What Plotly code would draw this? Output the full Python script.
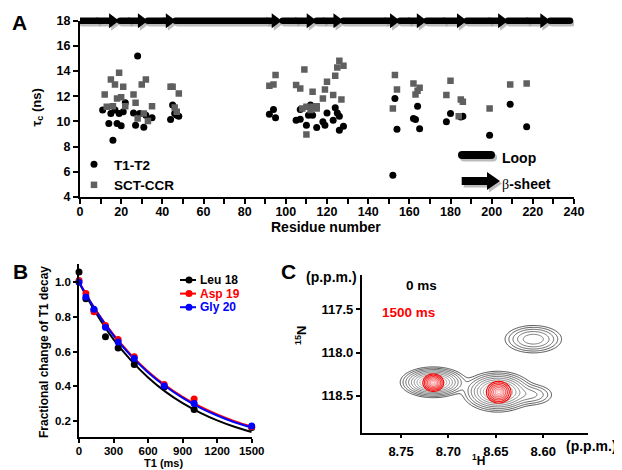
import numpy as np
import plotly.graph_objects as go

FONT = "Liberation Sans, Arial, sans-serif"
# the page body has an 8 px margin, so the figure is drawn 8 px smaller and offset
OFF = 8
W, H = 622 - OFF, 470 - OFF

# ---------------- Panel A data ----------------
res_t1t2 = [11, 14, 15, 16, 17, 18, 19, 20, 21, 22, 26, 27, 28, 29, 31, 32, 35,
            44, 45, 46, 47, 48, 92, 94, 95, 105, 107, 107, 110, 111, 112, 113, 115,
            118, 119, 120, 123, 124, 125, 126, 126, 128, 152, 153, 154, 162, 163,
            164, 165, 178, 180, 185, 186, 199, 209, 217]
tau_t1t2 = [10.9, 9.84, 10.63, 8.51, 10.9, 9.84, 10.63, 9.65, 10.76, 11.48, 10.68, 9.7, 15.2, 10.63, 9.54, 10.5, 10.3,
            10.16, 11.3, 10.63, 10.5, 10.42, 10.58, 10.95, 10.3, 10.1, 10.18, 10.95, 9.7, 10.5, 11.3, 10.5, 9.52,
            9.97, 9.7, 10.68, 10.1, 11.08, 10.68, 10.42, 9.3, 9.62, 5.72, 11.83, 9.38, 10.23, 10.16,
            11.2, 9.41, 9.97, 10.63, 10.36, 10.42, 8.91, 11.37, 9.57]

res_sct = [12, 13, 15, 16, 17, 18, 19, 20, 21, 22, 26, 27, 28, 30, 31, 32, 33, 35, 44, 45, 46, 47, 48,
           92, 94, 95, 105, 107, 109, 113, 110, 108, 110, 112, 113, 115, 115, 118, 119, 120, 123, 124, 125, 126, 128, 127,
           152, 153, 154, 162, 163, 164, 165, 178, 180, 184, 185, 186, 199, 209, 217]
tau_sct = [12.14, 11.16, 13.34, 11.2, 12.94, 11.83, 13.86, 11.93, 12.75, 11.2, 12.14, 11.48, 10.23, 12.94, 10.63, 13.34, 10.04, 11.2,
           12.75, 12.75, 11.1, 10.76, 12.22,
           12.83, 12.94, 13.68, 12.9, 12.62, 14.13, 12.35, 8.96, 11.03, 11.16, 10.9, 11.16, 11.2, 11.03, 11.83, 12.54, 13.15,
           12.09, 13.63, 14.29, 14.82, 14.42, 11.75,
           11.03, 13.68, 12.54, 13.02, 12.14, 12.43, 12.67, 12.09, 13.23, 10.42, 11.75, 11.56, 11.03, 12.94, 13.02]

# secondary structure along the top (L = loop, E = beta-sheet)
ss_start = [0, 8, 19.5, 23.5, 33, 40.5, 46.5, 90.5, 98.5, 104.5, 115, 118, 128, 148, 155.5, 159.5, 168.5, 176.5,
            188, 198.5, 208, 217, 228.5]
ss_end = [8, 19, 23.5, 33, 40.5, 46.5, 90.5, 98, 104.5, 115, 118, 128, 148, 155.5, 159.5, 168.5, 176.5, 188,
          198.5, 208, 217, 228.5, 238]
ss_type = ['L', 'E', 'L', 'E', 'L', 'E', 'L', 'E', 'L', 'E', 'L', 'E', 'L', 'E', 'L', 'E', 'L', 'E',
           'L', 'E', 'L', 'E', 'L']

a_xticks = list(range(0, 241, 20))
a_xminor = list(range(10, 240, 20))
a_yticks = list(range(4, 19, 2))

# ---------------- Panel B data ----------------
t1_ms = [0, 60, 130, 230, 340, 480, 740, 1000, 1500]
leu18 = [1.06, 0.905, 0.84, 0.685, 0.62, 0.525, 0.395, 0.265, 0.16]
asp19 = [1.01, 0.935, 0.83, 0.75, 0.67, 0.57, 0.41, 0.325, 0.165]
gly20 = [1.0, 0.915, 0.845, 0.74, 0.655, 0.56, 0.40, 0.30, 0.17]
fit_t = [0, 150, 300, 450, 600, 750, 900, 1050, 1200, 1350, 1500]
fit_leu18 = [1.0, 0.82, 0.67, 0.55, 0.45, 0.368, 0.301, 0.247, 0.202, 0.165, 0.135]
fit_asp19 = [1.0, 0.835, 0.697, 0.582, 0.485, 0.405, 0.338, 0.282, 0.236, 0.197, 0.165]
fit_gly20 = [1.0, 0.832, 0.692, 0.576, 0.479, 0.399, 0.332, 0.276, 0.23, 0.191, 0.16]
b_names = ['Leu 18', 'Asp 19', 'Gly 20']
b_colors = ['#000000', '#ff0000', '#0000ff']
b_xticks = [0, 300, 600, 900, 1200, 1500]
b_yticks = [0.2, 0.4, 0.6, 0.8, 1.0]

# ---------------- Panel C data (peak positions, widths, heights) ----------------
p0_h = [8.716, 8.648, 8.612, 8.6105]
p0_n = [118.345, 118.454, 118.49, 117.845]
p0_amp = [1.0, 1.0, 0.12, 0.25]
p0_wh = [0.0125, 0.0134, 0.011, 0.0133]
p0_wn = [0.064, 0.085, 0.06, 0.071]
p1_h = [8.716, 8.647]
p1_n = [118.35, 118.46]
p1_amp = [1.0, 1.0]
p1_wh = [0.0061, 0.0072]
p1_wn = [0.056, 0.07]
c_xticks = [8.75, 8.70, 8.65, 8.60]
c_yticks = [117.5, 118.0, 118.5]


def ppx(px):
    return (px - OFF) / W


def ppy(py):
    return 1 - (py - OFF) / H


fig = go.Figure()

# ---- Panel A ----
fig.add_trace(go.Scatter(x=res_t1t2, y=tau_t1t2, mode='markers', name='T1-T2',
                         marker=dict(symbol='circle', size=7, color='black'),
                         xaxis='x', yaxis='y', legend='legend'))
fig.add_trace(go.Scatter(x=res_sct, y=tau_sct, mode='markers', name='SCT-CCR',
                         marker=dict(symbol='square', size=6.5, color='#5f5f5f'),
                         xaxis='x', yaxis='y', legend='legend'))

# ---- Panel B ----
for pts, fit, col, nm in zip([leu18, asp19, gly20], [fit_leu18, fit_asp19, fit_gly20], b_colors, b_names):
    fig.add_trace(go.Scatter(x=fit_t, y=fit, mode='lines', line=dict(color=col, width=2, shape='spline'),
                             xaxis='x2', yaxis='y2', showlegend=False, cliponaxis=False, name=nm + ' fit'))
for pts, col, nm in zip([leu18, asp19, gly20], b_colors, b_names):
    fig.add_trace(go.Scatter(x=t1_ms, y=pts, mode='markers', marker=dict(color=col, size=7),
                             xaxis='x2', yaxis='y2', showlegend=False, cliponaxis=False, name=nm))

# ---- Panel C ----
hh = np.linspace(8.80, 8.54, 261)
nn = np.linspace(117.05, 119.0, 261)
HH, NN = np.meshgrid(hh, nn)


def spectrum(ch, cn, amp, wh, wn):
    z = np.zeros_like(HH)
    for a, b, c, d, e in zip(ch, cn, amp, wh, wn):
        z += c * np.exp(-((HH - a) ** 2 / (2 * d ** 2) + (NN - b) ** 2 / (2 * e ** 2)))
    # radius-like scale so that contour rings come out evenly spaced
    return -np.sqrt(np.clip(-np.log10(z / z.max() + 1e-12), 0, None))


z0 = spectrum(p0_h, p0_n, p0_amp, p0_wh, p0_wn)
z1 = spectrum(p1_h, p1_n, p1_amp, p1_wh, p1_wn)
fig.add_trace(go.Contour(x=hh, y=nn, z=z0, xaxis='x3', yaxis='y3', showscale=False, hoverinfo='skip',
                         contours=dict(start=-1.3, end=-0.1, size=0.11, coloring='lines'),
                         colorscale=[[0, '#222222'], [0.5, '#6a6a6a'], [1, '#d5d5d5']], zmin=-1.3, zmax=0,
                         line=dict(width=0.8), name='0 ms'))
fig.add_trace(go.Contour(x=hh, y=nn, z=z1, xaxis='x3', yaxis='y3', showscale=False, hoverinfo='skip',
                         contours=dict(start=-0.84, end=-0.1, size=0.12, coloring='lines'),
                         colorscale=[[0, '#ff0000'], [1, '#ffb0b0']], zmin=-0.84, zmax=0,
                         line=dict(width=1.1), name='1500 ms'))

# ---- shapes: secondary structure bar ----
PXU = (574 - 80) / 240.0  # pixels per residue


def loop_path(x0, x1, half):
    r = half / PXU
    return (f"M {x0},{-half} L {x1},{-half} Q {x1 + r},{-half} {x1 + r},0 Q {x1 + r},{half} {x1},{half} "
            f"L {x0},{half} Q {x0 - r},{half} {x0 - r},0 Q {x0 - r},{-half} {x0},{-half} Z")


def arrow_path(x0, x1, half, headhalf, headpx):
    hl = min(headpx / PXU, 0.8 * (x1 - x0))
    xh = x1 - hl
    return (f"M {x0},{-half} L {xh},{-half} L {xh},{-headhalf} L {x1},0 L {xh},{headhalf} "
            f"L {xh},{half} L {x0},{half} Z")


shapes = []
ybar = ppy(20.7)


def add_ss(kind, x0, x1, yanc, half, headhalf, headpx, shadow=True):
    out = []
    for dx, dy, col, op in ([(1.0, -2.5, '#a0a0a0', 0.7)] if shadow else []) + [(0, 0, 'black', 1)]:
        if kind == 'L':
            p = loop_path(x0 + dx, x1 + dx, half)
        else:
            p = arrow_path(x0 + dx, x1 + dx, half, headhalf, headpx)
        out.append(dict(type='path', path=p, xref='x', yref='paper', ysizemode='pixel', yanchor=yanc + dy / H,
                        fillcolor=col, opacity=op, line=dict(width=0), layer='above'))
    return out


shadow_shapes, main_loops, main_arrows = [], [], []
for s, e, k in zip(ss_start, ss_end, ss_type):
    sh = add_ss(k, s, e, ybar, 3.3, 7.5, 10)
    shadow_shapes.append(sh[0])
    (main_loops if k == 'L' else main_arrows).append(sh[1])
shapes += shadow_shapes + main_loops + main_arrows
# legend symbols for Loop / beta-sheet
shapes += add_ss('L', (462 - 80) / PXU, (491 - 80) / PXU, ppy(155), 4, 4, 0)
shapes += add_ss('E', (461.7 - 80) / PXU, (500 - 80) / PXU, ppy(181), 4, 9, 13)

# custom legend for panel B
for i, (nm, col) in enumerate(zip(b_names, b_colors)):
    yy = ppy(280 + i * 13.6)
    shapes.append(dict(type='line', xref='paper', yref='paper', x0=ppx(180), x1=ppx(196), y0=yy, y1=yy,
                       line=dict(color=col, width=2)))
    shapes.append(dict(type='circle', xref='paper', yref='paper', xsizemode='pixel', ysizemode='pixel',
                       xanchor=ppx(189), yanchor=yy, x0=-3.5, x1=3.5, y0=-3.5, y1=3.5,
                       fillcolor=col, line=dict(width=0)))

annotations = []


def ann(text, px, py, size, xanchor='center', yanchor='middle', color='black', angle=0):
    annotations.append(dict(text=text, x=ppx(px), y=ppy(py), xref='paper', yref='paper', showarrow=False,
                            xanchor=xanchor, yanchor=yanchor, textangle=angle,
                            font=dict(family=FONT, size=size, color=color, weight='bold')))


ann('A', 20, 22.5, 21)
ann('B', 20.8, 271, 21)
ann('C', 288, 271, 21)
ann('τ<sub>c</sub> (ns)', 36.5, 108, 13, angle=-90)
ann('Residue number', 326, 226.5, 14)
ann('Loop', 500, 158.5, 14, xanchor='left')
ann("<span style='font-family:Liberation Serif;font-weight:normal'>β</span>-sheet", 500, 183.5, 14, xanchor='left')
ann('Fractional change of T1 decay', 44, 352, 12, angle=-90)
ann('T1 (ms)', 163, 462.5, 11)
for i, (nm, col) in enumerate(zip(b_names, b_colors)):
    ann(nm, 198, 280 + i * 13.6, 12, xanchor='left', color=col)
ann('(p.p.m.)', 331, 277, 14)
ann('(p.p.m.)', 591, 446, 14)
ann('0 ms', 421, 285, 13.5)
ann('1500 ms', 408, 312.5, 13.5, color='#ff0000')
ann('<sup>15</sup>N', 301, 335, 13, angle=-90)
ann('<sup>1</sup>H', 478, 470.5, 12, yanchor='bottom')

tf = lambda s: dict(family=FONT, size=s, color='black', weight='bold')
common = dict(showline=True, linecolor='black', ticks='outside', tickcolor='black', showgrid=False,
              zeroline=False, automargin=False)

fig.update_layout(
    width=W, height=H, margin=dict(l=0, r=0, t=0, b=0, pad=0, autoexpand=False),
    paper_bgcolor='white', plot_bgcolor='white',
    font=dict(family=FONT, color='black'),
    xaxis=dict(common, domain=[ppx(80), ppx(574)], range=[0, 240], anchor='y', tickvals=a_xticks,
               linewidth=2, tickwidth=2, ticklen=5, tickfont=tf(12.5), ticklabelstandoff=-3,
               minor=dict(tickvals=a_xminor, ticks='outside', ticklen=5, tickwidth=2, tickcolor='black')),
    yaxis=dict(common, domain=[ppy(197), ppy(20.7)], range=[4, 18], anchor='x', tickvals=a_yticks,
               linewidth=2, tickwidth=2, ticklen=5, tickfont=tf(12.5)),
    xaxis2=dict(common, domain=[ppx(79), ppx(251.7)], range=[0, 1500], anchor='y2', tickvals=b_xticks,
                linewidth=1.5, tickwidth=1.5, ticklen=4, tickfont=tf(11.5), ticklabelstandoff=-2),
    yaxis2=dict(common, domain=[ppy(437.3), ppy(264)], range=[0.104, 1.106], anchor='x2', tickvals=b_yticks,
                tickformat='.1f', linewidth=1.5, tickwidth=1.5, ticklen=4, tickfont=tf(11.5)),
    xaxis3=dict(common, domain=[ppx(361.7), ppx(588.3)], range=[8.7915, 8.5525], anchor='y3', tickvals=c_xticks,
                tickformat='.2f', linewidth=1.5, tickwidth=1.5, ticklen=4, tickfont=tf(13), ticklabelstandoff=2),
    yaxis3=dict(common, domain=[ppy(432.7), ppy(275)], range=[118.93, 117.10], anchor='x3', tickvals=c_yticks,
                tickformat='.1f', linewidth=1.5, tickwidth=1.5, ticklen=4, tickfont=tf(13)),
    legend=dict(x=ppx(74), y=ppy(149), xanchor='left', yanchor='top', bgcolor='rgba(0,0,0,0)',
                font=dict(family=FONT, size=13.5, color='black', weight='bold'), tracegroupgap=0),
    shapes=shapes, annotations=annotations, showlegend=True,
)

fig.write_html("out.html")
